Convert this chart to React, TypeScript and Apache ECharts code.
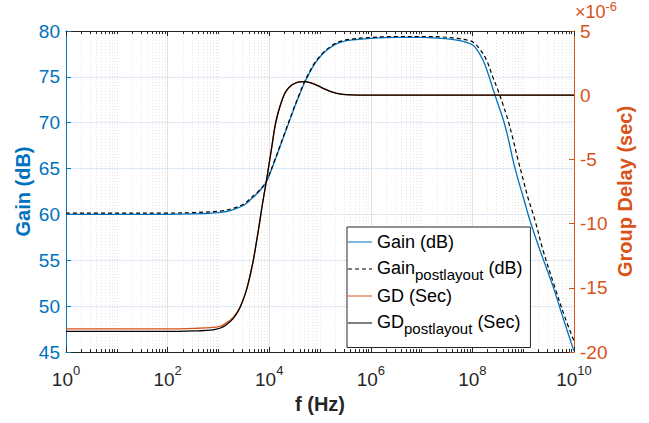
import React, { useEffect, useRef } from 'react';
import * as echarts from 'echarts';

// ---- Data (frequency given as log10(f)) ----
const gainLogF = [0, 1, 2, 2.5, 3.0, 3.25, 3.5, 3.65, 3.8, 3.94, 4.1, 4.3, 4.5, 4.6, 4.69, 4.78, 4.87, 4.96, 5.07, 5.18, 5.3, 5.45, 5.6, 6.0, 6.5, 7.0, 7.4, 7.6, 7.8, 8.0, 8.1, 8.21, 8.3, 8.41, 8.5, 8.61, 8.7, 8.8, 8.9, 9.0, 9.13, 9.33, 9.59, 9.78, 10];
const gainDb = [60.0, 60.0, 60.0, 60.05, 60.2, 60.45, 61.0, 61.7, 62.5, 63.5, 65.7, 68.7, 71.7, 73.1, 74.3, 75.3, 76.2, 76.9, 77.6, 78.1, 78.55, 78.85, 79.0, 79.2, 79.3, 79.3, 79.2, 79.1, 78.9, 78.5, 77.9, 76.8, 75.5, 73.6, 72.1, 70.3, 68.4, 65.9, 63.8, 61.9, 59.4, 56.1, 52.1, 48.8, 45.1];

const gainPostLogF = [0, 1, 2, 2.5, 3.0, 3.25, 3.5, 3.65, 3.8, 3.94, 4.1, 4.3, 4.5, 4.6, 4.69, 4.78, 4.87, 4.96, 5.07, 5.18, 5.3, 5.45, 5.6, 6.0, 6.5, 7.0, 7.4, 7.7, 7.9, 8.01, 8.15, 8.28, 8.4, 8.5, 8.6, 8.7, 8.8, 8.9, 9.0, 9.09, 9.23, 9.39, 9.62, 9.82, 10];
const gainPostDb = [60.15, 60.15, 60.15, 60.2, 60.35, 60.6, 61.15, 61.85, 62.6, 63.6, 65.8, 68.8, 71.8, 73.2, 74.4, 75.4, 76.3, 77.0, 77.7, 78.2, 78.65, 78.95, 79.1, 79.3, 79.4, 79.4, 79.35, 79.2, 79.0, 78.8, 78.0, 76.8, 75.0, 73.6, 72.0, 70.3, 68.2, 65.9, 63.8, 61.9, 59.4, 56.1, 52.1, 48.8, 46.2];

// group delay in microseconds (axis shows x10^-6 sec)
const gdLogF = [0, 2, 2.6, 2.85, 3.03, 3.15, 3.29, 3.4, 3.48, 3.55, 3.62, 3.69, 3.75, 3.8, 3.85, 3.9, 3.94, 4.0, 4.05, 4.11, 4.16, 4.21, 4.28, 4.34, 4.42, 4.51, 4.6, 4.7, 4.8, 4.9, 5.0, 5.1, 5.2, 5.33, 5.45, 5.6, 5.8, 6.0, 8.0, 10];
const gdUs = [-18.2, -18.2, -18.15, -18.1, -18.0, -17.75, -17.3, -16.7, -16.0, -15.2, -14.1, -12.8, -11.4, -10.2, -8.9, -7.7, -6.8, -5.3, -4.05, -2.5, -1.6, -0.9, -0.1, 0.35, 0.72, 0.93, 1.03, 1.05, 0.98, 0.85, 0.66, 0.47, 0.3, 0.15, 0.07, 0.03, 0.01, 0, 0, 0];
const gdPostUs = [-18.4, -18.4, -18.35, -18.3, -18.15, -17.9, -17.4, -16.75, -16.0, -15.2, -14.1, -12.8, -11.4, -10.2, -8.9, -7.7, -6.8, -5.3, -4.05, -2.5, -1.6, -0.9, -0.1, 0.35, 0.72, 0.93, 1.03, 1.05, 0.98, 0.85, 0.66, 0.47, 0.3, 0.15, 0.07, 0.03, 0.01, 0, 0, 0];

const xMajorTicks = [1, 1e2, 1e4, 1e6, 1e8, 1e10];
const seriesNames = ['Gain (dB)', 'Gain_postlayout (dB)', 'GD (Sec)', 'GD_postlayout (Sec)'];

const BLUE = '#0072BD';
const ORANGE = '#D95319';
const AX = '#262626';
const FONT = '"Liberation Sans", Arial, Helvetica, sans-serif';

const minorTicks: number[] = [];
for (let k = 0; k < 10; k++) {
  for (let m = 1; m <= 9; m++) {
    if (m === 1 && k % 2 === 0) continue;
    minorTicks.push(m * Math.pow(10, k));
  }
}

const toPairs = (lf: number[], v: number[]) => lf.map((e, i) => [Math.pow(10, e), v[i]]);

// legend icons: thin horizontal line inside a 24x14 box (corner points keep the box size)
const BOX = 'M0,0L0.01,0L0,0.01Z M24,14L23.99,14L24,13.99Z ';
const solidIcon = 'path://' + BOX + 'M0,6.4H24V7.6H0Z';
const dashedIcon = 'path://' + BOX + 'M0,6.4H4V7.6H0Z M7,6.4H11V7.6H7Z M14,6.4H18V7.6H14Z M21,6.4H24V7.6H21Z';

const baseLog = {
  type: 'log',
  logBase: 10,
  min: 1,
  max: 1e10,
  gridIndex: 0,
};

export default function App() {
  const ref = useRef<HTMLDivElement>(null);
  useEffect(() => {
    if (!ref.current) return;
    const chart = echarts.init(ref.current, null, { renderer: 'svg' });
    const lineSeries = (name: string, lf: number[], v: number[], yIdx: number, color: string, z: number, dashed = false) => ({
      name,
      type: 'line',
      xAxisIndex: 0,
      yAxisIndex: yIdx,
      data: toPairs(lf, v),
      symbol: 'none',
      showSymbol: false,
      smooth: 0.35,
      lineStyle: { color, width: dashed ? 1.2 : 1.3, type: dashed ? [4, 3] : 'solid' },
      itemStyle: { color },
      z,
    });
    const option: any = {
      animation: false,
      textStyle: { fontFamily: FONT },
      grid: { left: 66, top: 31, width: 508, height: 321, containLabel: false },
      xAxis: [
        {
          ...baseLog,
          position: 'bottom',
          axisLine: { show: true, onZero: false, lineStyle: { color: AX, width: 1 } },
          axisTick: { show: true, inside: true, length: 5, customValues: xMajorTicks, lineStyle: { color: AX } },
          axisLabel: {
            show: true,
            customValues: xMajorTicks,
            margin: 12,
            color: AX,
            formatter: (v: number) => `{b|10}{s|${Math.round(Math.log10(v))}}`,
            rich: {
              b: { fontSize: 19, color: AX, fontFamily: FONT },
              s: { fontSize: 13, color: AX, fontFamily: FONT, padding: [0, 0, 18, 0] },
            },
          },
          splitLine: { show: true, lineStyle: { color: '#e2e2e2', width: 1 } },
          name: 'f (Hz)',
          nameLocation: 'middle',
          nameGap: 42,
          nameMoveOverlap: false,
          nameTextStyle: { fontSize: 20, fontWeight: 'bold', color: AX, fontFamily: FONT },
        },
        {
          ...baseLog,
          position: 'bottom',
          axisLine: { show: false, onZero: false },
          axisTick: { show: true, inside: true, length: 3, customValues: minorTicks, lineStyle: { color: AX } },
          axisLabel: { show: false },
          splitLine: { show: true, lineStyle: { color: '#e6e6e6', width: 1, type: [1, 2] } },
        },
        {
          ...baseLog,
          position: 'top',
          axisLine: { show: true, onZero: false, lineStyle: { color: AX, width: 1 } },
          axisTick: { show: true, inside: true, length: 5, customValues: xMajorTicks, lineStyle: { color: AX } },
          axisLabel: { show: false },
          splitLine: { show: false },
        },
        {
          ...baseLog,
          position: 'top',
          axisLine: { show: false, onZero: false },
          axisTick: { show: true, inside: true, length: 3, customValues: minorTicks, lineStyle: { color: AX } },
          axisLabel: { show: false },
          splitLine: { show: false },
        },
      ],
      yAxis: [
        {
          type: 'value',
          min: 45,
          max: 80,
          interval: 5,
          position: 'left',
          axisLine: { show: true, onZero: false, lineStyle: { color: BLUE, width: 1 } },
          axisTick: { show: true, inside: true, length: 5, lineStyle: { color: BLUE } },
          axisLabel: { color: BLUE, fontSize: 19, margin: 6, fontFamily: FONT },
          splitLine: { show: true, lineStyle: { color: '#dde9f4', width: 1 } },
          name: 'Gain (dB)',
          nameLocation: 'middle',
          nameRotate: 90,
          nameGap: 33,
          nameMoveOverlap: false,
          nameTextStyle: { color: BLUE, fontSize: 20, fontWeight: 'bold', fontFamily: FONT },
        },
        {
          type: 'value',
          min: -20,
          max: 5,
          interval: 5,
          position: 'right',
          axisLine: { show: true, onZero: false, lineStyle: { color: ORANGE, width: 1 } },
          axisTick: { show: true, inside: true, length: 5, lineStyle: { color: ORANGE } },
          axisLabel: { color: ORANGE, fontSize: 19, margin: 6, fontFamily: FONT },
          splitLine: { show: false },
          name: 'Group Delay (sec)',
          nameLocation: 'middle',
          nameRotate: 90,
          nameGap: 41,
          nameMoveOverlap: false,
          nameTextStyle: { color: ORANGE, fontSize: 20, fontWeight: 'bold', fontFamily: FONT },
        },
      ],
      legend: {
        orient: 'vertical',
        left: 347,
        top: 227,
        backgroundColor: '#ffffff',
        borderColor: AX,
        borderWidth: 1,
        borderRadius: 0,
        padding: [6, 8, 12, 1],
        itemWidth: 24,
        itemHeight: 14,
        itemGap: 5.5,
        selectedMode: false,
        data: [
          { name: seriesNames[0], icon: solidIcon, itemStyle: { color: BLUE } },
          { name: seriesNames[1], icon: dashedIcon, itemStyle: { color: '#000' } },
          { name: seriesNames[2], icon: solidIcon, itemStyle: { color: ORANGE } },
          { name: seriesNames[3], icon: solidIcon, itemStyle: { color: '#000' } },
        ],
        formatter: (name: string) => {
          if (name.includes('_postlayout')) {
            const [a, b] = name.split('_postlayout');
            return `{t|${a}}{sub|postlayout}{t|${b}}`;
          }
          return `{p|${name}}`;
        },
        textStyle: {
          fontSize: 18,
          color: '#000',
          fontFamily: FONT,
          rich: {
            p: { fontSize: 18, lineHeight: 20, color: '#000', fontFamily: FONT },
            t: { fontSize: 18, lineHeight: 20, color: '#000', fontFamily: FONT, verticalAlign: 'top' },
            sub: { fontSize: 15, lineHeight: 15, color: '#000', fontFamily: FONT, padding: [10, 0, 0, 0] },
          },
        },
      },
      graphic: [
        {
          type: 'text',
          left: 575,
          top: 0,
          style: {
            text: '{a|×10}{b|-6}',
            fill: ORANGE,
            rich: {
              a: { fontSize: 18, fill: ORANGE, fontFamily: FONT, padding: [3, 0, 0, 0] },
              b: { fontSize: 13, fill: ORANGE, fontFamily: FONT, verticalAlign: 'top' },
            },
          },
        },
      ],
      series: [
        lineSeries(seriesNames[0], gainLogF, gainDb, 0, BLUE, 2),
        lineSeries(seriesNames[1], gainPostLogF, gainPostDb, 0, '#000', 3, true),
        lineSeries(seriesNames[2], gdLogF, gdUs, 1, ORANGE, 4),
        lineSeries(seriesNames[3], gdLogF, gdPostUs, 1, '#000', 5),
      ],
    };
    chart.setOption(option);
    return () => chart.dispose();
  }, []);
  return (
    <div
      ref={ref}
      style={{ position: 'fixed', left: 0, top: 0, width: 649, height: 423, background: '#fff' }}
    />
  );
}
